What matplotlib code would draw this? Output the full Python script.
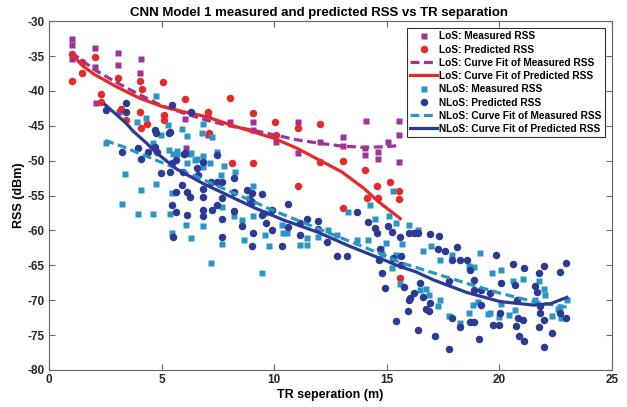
import matplotlib.pyplot as plt
import numpy as np

plt.rcParams["font.family"] = ["Liberation Sans", "DejaVu Sans"]
plt.rcParams["font.weight"] = "bold"
plt.rcParams["axes.unicode_minus"] = False

# LoS measured RSS
los_meas_x = [1.02, 1.02, 1.02, 2.04, 2.04, 3.07, 3.07, 4.08, 4.04, 2.09, 3.1, 6.1, 7.07, 8.04,
              6.05, 7.07, 9.07, 9.07, 10.1, 11.07, 11.07, 12.04, 13.07, 13.07, 14.04, 14.04, 14.1,
              14.6, 14.6, 15.07, 15.56, 15.56, 15.56]
los_meas_y = [-32.6, -33.4, -35.4, -33.9, -36.6, -34.6, -36.3, -35.4, -37.5, -41.7, -43.0, -48.2,
              -46.3, -44.5, -44.0, -43.5, -44.5, -45.6, -47.3, -44.5, -48.9, -47.3, -46.6, -47.9,
              -48.2, -49.2, -44.3, -48.8, -49.8, -47.3, -44.3, -46.3, -50.2]

# LoS predicted RSS
los_pred_x = [1.02, 1.02, 1.47, 1.47, 2.04, 2.3, 2.3, 3.07, 3.2, 3.42, 4.04, 4.13, 4.04, 4.08, 4.35,
              5.07, 5.1, 5.1, 6.04, 7.07, 7.1, 8.04, 9.07, 10.04, 10.1, 11.07, 12.04, 8.13, 9.07,
              11.07, 12.04, 13.07, 14.04, 14.58, 15.16, 15.56, 15.56, 14.13, 14.6, 13.07, 15.6]
los_pred_y = [-34.7, -38.6, -35.9, -37.5, -35.2, -40.4, -41.6, -38.2, -42.6, -44.2, -38.6, -39.7,
              -43.0, -45.3, -44.8, -38.7, -43.5, -44.2, -41.2, -43.0, -46.0, -41.0, -43.2, -44.5,
              -46.3, -45.3, -44.8, -50.3, -50.3, -53.6, -50.2, -50.0, -51.3, -53.6, -53.0, -54.4,
              -55.5, -55.4, -55.4, -56.8, -66.8]

# NLoS measured RSS
nlos_meas_x = [4.76, 3.92, 4.31, 5.27, 5.9, 6.83, 7.23, 4.64, 2.53, 3.38, 4.07, 3.23, 3.97, 4.64,
               4.76, 4.98, 5.35, 5.5, 5.7, 6.12, 6.27, 6.15, 6.79, 6.49, 6.86, 6.86, 7.45, 7.78,
               7.63, 8.27, 5.45, 5.38, 6.09, 6.83, 6.3, 5.45, 7.67, 8.22, 8.56, 8.67, 8.9, 7.67,
               7.2, 5.67, 6.3, 6.56, 7.16,
               9.05, 9.05, 9.6, 9.6, 9.79, 10.34, 10.41, 10.59, 11.16, 11.45, 11.45, 11.97, 12.37,
               12.81, 13.7, 14.15, 14.49, 14.74, 14.79, 14.98, 15.08, 15.42, 15.68, 15.42, 15.68,
               15.23, 15.57, 9.45, 13.26, 14.27, 15.27, 16.01, 16.41,
               16.61, 16.96, 17.35, 17.9, 19.16, 18.64, 18.89, 19.68, 20.08, 20.61, 21.05, 21.75,
               22.0, 22.04, 21.6, 22.68, 23.0, 22.74, 22.34, 16.76, 16.46, 17.26, 17.75, 18.27,
               18.64, 19.04, 19.57, 20.08, 20.41, 20.71, 18.84, 16.86, 17.38, 20.0, 19.48, 22.6]
nlos_meas_y = [-40.7, -44.4, -43.9, -44.9, -45.4, -44.7, -46.6, -47.5, -47.4, -51.9, -54.2, -56.2,
               -57.6, -57.6, -53.3, -46.3, -48.5, -49.0, -49.0, -50.3, -49.0, -46.5, -46.0, -49.9,
               -49.4, -50.9, -48.7, -50.8, -52.1, -51.6, -54.6, -57.6, -59.2, -59.4, -61.1, -60.3,
               -56.7, -58.0, -58.5, -61.3, -55.3, -61.9, -64.6, -48.6, -48.9, -49.8, -50.4,
               -53.6, -57.9, -57.5, -60.7, -62.3, -59.2, -60.3, -60.3, -62.1, -61.1, -62.1, -60.9,
               -60.0, -60.7, -61.4, -61.3, -58.3, -62.6, -63.4, -61.8, -58.0, -59.0, -61.9, -63.5,
               -65.0, -65.4, -67.7, -66.1, -57.3, -56.4, -54.3, -59.2, -59.9,
               -63.0, -62.2, -64.3, -63.5, -63.2, -65.1, -65.3, -66.1, -65.7, -67.3, -67.0, -67.2,
               -68.4, -69.3, -70.0, -71.0, -70.0, -72.5, -72.3, -68.4, -68.5, -70.8, -72.3, -73.2,
               -71.9, -70.2, -71.9, -70.5, -72.1, -71.4, -70.7, -69.3, -70.0, -72.4, -72.0, -71.2]

# NLoS predicted RSS
nlos_pred_x = [2.53, 3.42, 3.42, 5.45, 6.3, 5.38, 4.71, 6.04,
               3.23, 3.97, 4.07, 4.41, 4.71, 4.79, 4.76, 5.35, 4.96, 5.38, 5.45, 5.64, 6.0, 5.97,
               5.9, 5.64, 6.15, 6.27, 5.45, 5.64, 6.12, 5.52, 6.56, 6.64, 6.83, 6.86, 6.86, 6.86,
               6.86, 7.23, 7.19, 7.45, 7.48, 7.67, 7.45, 7.67, 7.67, 7.67, 8.22, 8.22, 8.22, 8.56,
               8.79, 8.93, 9.05, 9.9,
               9.45, 9.0, 9.0, 9.9, 9.45, 9.64, 9.0, 10.34, 10.6, 10.6, 11.16, 11.16, 11.48, 11.97,
               11.97, 12.34, 12.81, 13.23, 13.7, 14.15, 14.49, 14.56, 15.04, 15.23, 15.57, 15.97,
               14.64, 14.79, 15.3, 15.63, 15.75, 14.93, 16.04, 14.69, 16.22,
               16.37, 16.9, 17.3, 17.26, 17.6, 18.12, 17.9, 18.27, 18.56, 18.71, 19.87, 20.61,
               21.08, 22.0, 21.75, 22.71, 22.98, 15.63, 16.19, 16.01, 16.46, 16.61, 16.76, 16.86,
               16.93, 15.94, 16.41, 17.16, 17.75, 17.75, 17.9, 18.27, 18.71, 18.86, 19.08, 18.86,
               18.89, 19.19, 19.19, 19.57, 20.08, 20.04, 19.72, 19.97, 20.71, 20.79, 20.81, 21.05,
               20.76, 20.86, 21.08, 21.67, 21.6, 21.79, 21.82, 22.0, 21.75, 22.34, 22.0, 22.71,
               22.98, 15.39]
nlos_pred_y = [-42.7, -41.7, -43.0, -42.0, -43.0, -45.9, -45.6, -48.9,
               -48.7, -48.2, -49.7, -48.7, -48.0, -48.7, -46.1, -46.1, -51.7, -51.6, -50.4, -49.9,
               -49.0, -51.6, -53.5, -54.5, -54.5, -55.2, -56.4, -57.3, -57.8, -60.9, -51.1, -52.1,
               -50.2, -54.0, -55.2, -57.1, -58.0, -57.1, -53.0, -49.2, -53.0, -53.0, -56.4, -55.3,
               -58.3, -60.9, -52.5, -54.5, -57.2, -59.4, -54.2, -55.6, -60.4, -59.9,
               -54.8, -54.7, -55.9, -57.0, -57.8, -59.0, -62.3, -62.2, -56.2, -59.5, -58.9, -60.7,
               -58.4, -58.6, -59.8, -61.6, -63.7, -63.7, -57.3, -58.8, -59.7, -60.4, -59.4, -60.2,
               -60.9, -60.4, -64.2, -66.1, -64.0, -65.0, -68.1, -68.3, -69.7, -62.6, -60.4,
               -60.3, -60.5, -60.8, -62.6, -62.9, -62.4, -64.2, -64.2, -64.2, -65.6, -63.5, -64.8,
               -65.4, -65.1, -66.1, -65.9, -64.7, -63.7, -68.9, -70.0, -67.5, -69.5, -71.2, -71.6,
               -70.4, -71.6, -74.3, -75.1, -77.0, -67.3, -72.6, -73.9, -73.1, -73.1, -75.5, -67.1,
               -68.5, -68.5, -70.7, -69.0, -67.5, -71.8, -73.6, -73.6, -67.8, -70.0, -72.5, -72.8,
               -73.7, -75.2, -75.8, -68.8, -68.0, -70.8, -71.9, -72.9, -73.8, -74.7, -76.7, -71.9,
               -72.5, -73.0]

# curve fits
los_fit_meas_x = [1, 2, 3, 4, 5, 6, 7, 8, 9, 10, 11, 12, 13, 14, 15, 15.6]
los_fit_meas_y = [-34.5, -36.9, -38.8, -40.5, -42.1, -43.2, -44.2, -45.0, -45.6, -46.3, -47.0,
                  -47.5, -47.9, -48.1, -48.0, -47.8]
los_fit_pred_x = [1, 1.5, 2, 3, 4, 5, 6, 7, 8, 9, 10, 11, 12, 13, 14, 14.6, 15.6]
los_fit_pred_y = [-34.7, -36.4, -37.6, -39.4, -41.0, -42.2, -43.0, -43.7, -44.8, -45.8, -46.8,
                  -48.2, -49.9, -51.6, -54.0, -55.8, -58.3]
nlos_fit_meas_x = [2.5, 3.3, 4.2, 5.5, 6.7, 7.75, 8.9, 10, 11, 12, 13, 14, 15, 15.6, 17.08, 18.56,
                   20.04, 21.53, 23.0]
nlos_fit_meas_y = [-47.1, -48.0, -49.2, -50.9, -52.5, -54.0, -55.6, -57.2, -58.5, -59.8, -61.1,
                   -62.4, -63.7, -64.6, -66.1, -67.6, -69.0, -70.2, -71.0]
nlos_fit_pred_x = [2.5, 3.0, 3.45, 3.75, 4.34, 4.75, 5.67, 6.86, 8.04, 9.16, 10.41, 11.9, 13.38,
                   14.86, 15.6, 16.27, 17.08, 18.56, 20.04, 21.53, 22.27, 23.0]
nlos_fit_pred_y = [-42.0, -43.4, -44.7, -45.8, -47.5, -48.8, -51.2, -53.3, -55.1, -56.8, -58.5,
                   -60.2, -62.3, -64.2, -65.2, -65.9, -67.1, -68.9, -70.2, -70.7, -70.5, -69.6]

c_purple = "#9C3596"
c_red = "#E8292B"
c_light = "#2C95C8"
c_dark = "#2B3A92"

fig = plt.figure(figsize=(6.27, 4.07), dpi=100)
ax = fig.add_axes([0.078, 0.091, 0.898, 0.857])

ax.plot(los_meas_x, los_meas_y, "s", color=c_purple, ms=4.3, mec="none", label="LoS: Measured RSS")
ax.plot(los_pred_x, los_pred_y, "o", color=c_red, ms=5.4, mec="none", label="LoS: Predicted RSS")
ax.plot(los_fit_meas_x, los_fit_meas_y, "--", color=c_purple, lw=2.3, dashes=(2.8, 1.4),
        label="LoS: Curve Fit of Measured RSS")
ax.plot(los_fit_pred_x, los_fit_pred_y, "-", color=c_red, lw=2.3,
        label="LoS: Curve Fit of Predicted RSS")
ax.plot(nlos_meas_x, nlos_meas_y, "s", color=c_light, ms=4.3, mec="none", label="NLoS: Measured RSS")
ax.plot(nlos_pred_x, nlos_pred_y, "o", color=c_dark, ms=5.4, mec="none", label="NLoS: Predicted RSS")
ax.plot(nlos_fit_meas_x, nlos_fit_meas_y, "--", color=c_light, lw=2.3, dashes=(2.8, 1.4),
        label="NLoS: Curve Fit of Measured RSS")
ax.plot(nlos_fit_pred_x, nlos_fit_pred_y, "-", color=c_dark, lw=2.3,
        label="NLoS: Curve Fit of Predicted RSS")

ax.set_xlim(0, 25)
ax.set_ylim(-80, -30)
ax.set_xticks(np.arange(0, 26, 5))
ax.set_yticks(np.arange(-80, -29, 5))
ax.tick_params(direction="in", top=True, right=True, length=4, width=0.8, color="#666666",
               labelsize=8.5, labelcolor="#262626", pad=3)
for s in ax.spines.values():
    s.set_color("#666666")
    s.set_linewidth(0.8)

ax.set_title("CNN Model 1 measured and predicted RSS vs TR separation", fontsize=9.5,
             fontweight="bold", pad=4, x=0.48)
ax.set_xlabel("TR seperation (m)", fontsize=9, fontweight="bold", labelpad=2)
ax.set_ylabel("RSS (dBm)", fontsize=9, fontweight="bold", labelpad=2)

leg = ax.legend(loc="upper right", fontsize=7.3, numpoints=1, handlelength=2.7,
                handletextpad=0.2, labelspacing=0.32, borderpad=0.3, borderaxespad=0.7,
                fancybox=False, framealpha=1)
leg.get_frame().set_edgecolor("#333333")
leg.get_frame().set_linewidth(0.8)

plt.savefig("out.png", dpi=100)
